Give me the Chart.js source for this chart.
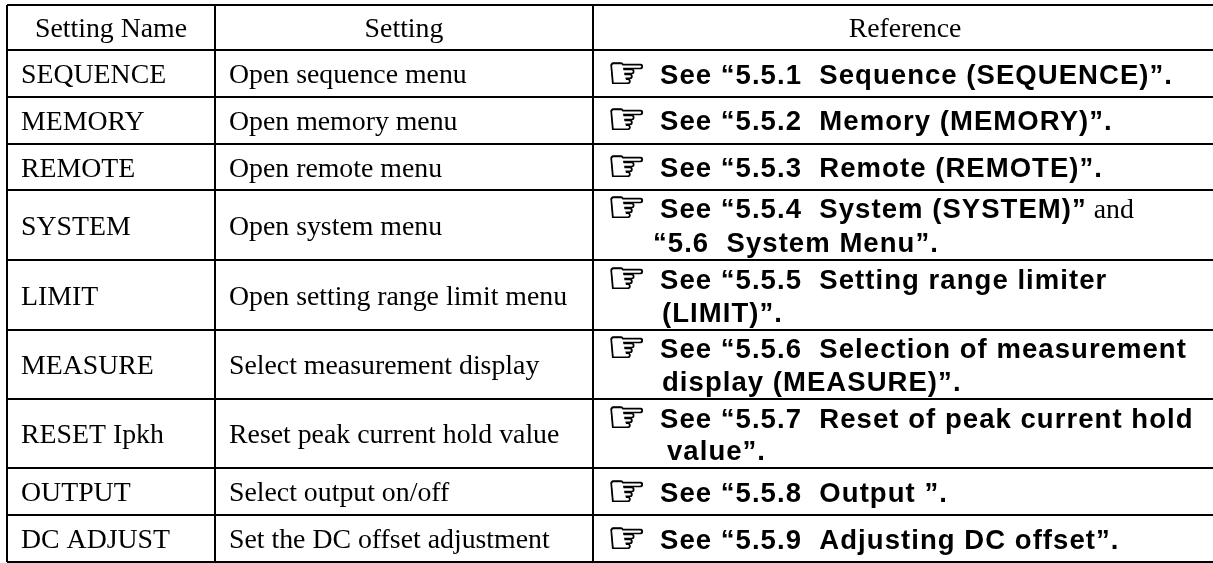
<!DOCTYPE html>
<html><head><meta charset="utf-8">
<style>html,body{margin:0;padding:0;background:#fff;overflow:hidden}canvas{display:block}</style>
<script src="https://cdn.jsdelivr.net/npm/chart.js@4/dist/chart.umd.min.js"></script>
</head><body><canvas id="c" width="1213" height="563"></canvas>
<script>
const headers = ["Setting Name", "Setting", "Reference"];
const settingNames = ["SEQUENCE","MEMORY","REMOTE","SYSTEM","LIMIT","MEASURE","RESET Ipkh","OUTPUT","DC ADJUST"];
const settingTexts = ["Open sequence menu","Open memory menu","Open remote menu","Open system menu","Open setting range limit menu","Select measurement display","Reset peak current hold value","Select output on/off","Set the DC offset adjustment"];
const referenceFirst = ["See “5.5.1  Sequence (SEQUENCE)”.","See “5.5.2  Memory (MEMORY)”.","See “5.5.3  Remote (REMOTE)”.","See “5.5.4  System (SYSTEM)”","See “5.5.5  Setting range limiter","See “5.5.6  Selection of measurement","See “5.5.7  Reset of peak current hold","See “5.5.8  Output ”.","See “5.5.9  Adjusting DC offset”."];
const referenceSecond = [null,null,null,"“5.6  System Menu”.","(LIMIT)”.","display (MEASURE)”.","value”.",null,null];
const referenceTail = [null,null,null," and",null,null,null,null,null];
const columnEdges = [7,215,593,1217];
const rowEdges = [5,50,97,144,190,260,330,399,468,515,562];

const SERIF = "27.8px 'Liberation Serif'";
const BOLD = "bold 27.5px 'Liberation Sans'";
const HAND = "44px 'DejaVu Sans'";
const SPACING = "1.05px";
const colText = [21, 229, 660];
const handX = 607, contX = [0,0,0,653,662,662,667,0,0];
const firstY = [84,130,177,218,289,358,428,502,549];
const secondY = [0,0,0,252,322,391,460,0,0];

const cells = [];
const mid = i => (rowEdges[i]+rowEdges[i+1])/2;
headers.forEach((t,i)=>cells.push({x:(columnEdges[i]+columnEdges[i+1])/2,y:mid(0)+9.5,text:t,font:SERIF,align:'center'}));
settingNames.forEach((t,i)=>cells.push({x:colText[0],y:mid(i+1)+9.5,text:t,font:SERIF}));
settingTexts.forEach((t,i)=>cells.push({x:colText[1],y:mid(i+1)+9.5,text:t,font:SERIF}));
referenceFirst.forEach((t,i)=>{
  cells.push({x:handX,y:firstY[i]+4,text:"☞",font:HAND,stroke:0.9});
  cells.push({x:colText[2],y:firstY[i],text:t,font:BOLD,spacing:SPACING,tail:referenceTail[i]});
  if(referenceSecond[i]) cells.push({x:contX[i],y:secondY[i],text:referenceSecond[i],font:BOLD,spacing:SPACING});
});

const tablePlugin = {
  id:'tableText',
  afterDatasetsDraw(chart){
    const ctx = chart.ctx, meta = chart.getDatasetMeta(0);
    ctx.save();
    ctx.fillStyle = '#000';
    ctx.strokeStyle = '#000';
    ctx.textBaseline = 'alphabetic';
    meta.data.forEach((el,i)=>{
      const c = cells[i];
      ctx.font = c.font;
      ctx.letterSpacing = c.spacing || '0px';
      ctx.textAlign = c.align || 'left';
      ctx.fillText(c.text, el.x, el.y);
      if(c.stroke){ ctx.lineWidth = c.stroke; ctx.strokeText(c.text, el.x, el.y); }
      if(c.tail){
        const w = ctx.measureText(c.text).width;
        ctx.font = SERIF; ctx.letterSpacing = '0px';
        ctx.fillText(c.tail, el.x+w, el.y);
      }
    });
    ctx.restore();
  }
};

new Chart(document.getElementById('c'),{
  type:'scatter',
  data:{datasets:[{data:cells.map(c=>({x:c.x,y:c.y})),pointRadius:0,pointHoverRadius:0}]},
  plugins:[tablePlugin],
  options:{
    responsive:false,animation:false,
    layout:{padding:{left:7,top:5,right:0,bottom:1}},
    plugins:{legend:{display:false},tooltip:{enabled:false},title:{display:false}},
    scales:{
      x:{type:'linear',min:7,max:1213,
        afterBuildTicks(s){s.ticks=columnEdges.filter(v=>v<=1213).map(v=>({value:v}));},
        ticks:{display:false},border:{display:false},
        grid:{color:'#000',lineWidth:2,drawTicks:false}},
      y:{type:'linear',reverse:true,min:5,max:562,
        afterBuildTicks(s){s.ticks=rowEdges.map(v=>({value:v}));},
        ticks:{display:false},border:{display:false},
        grid:{color:'#000',lineWidth:2,drawTicks:false}}
    }
  }
});
</script></body></html>
